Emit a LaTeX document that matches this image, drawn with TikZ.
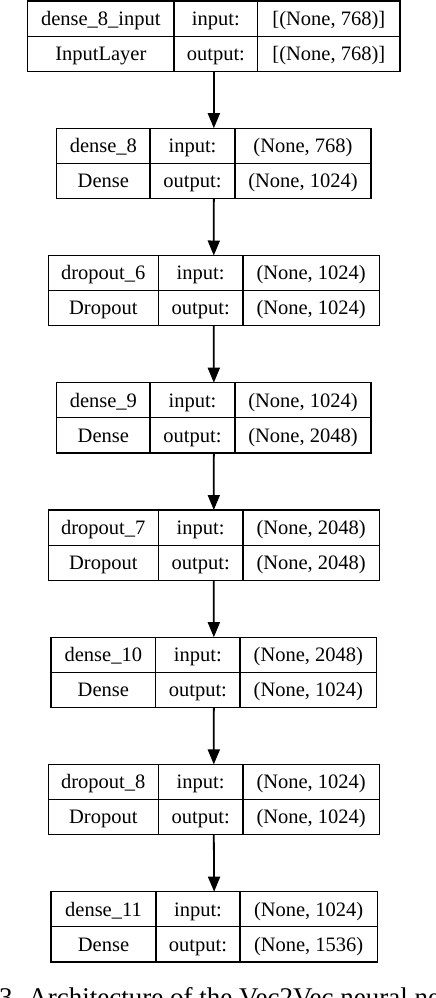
\documentclass[tikz,border=0pt]{standalone}
\usepackage{fontspec}
\setmainfont{Liberation Serif}
\usetikzlibrary{arrows.meta}
\begin{document}
\begin{tikzpicture}[x=1pt,y=-1pt,
  cell/.style={anchor=base, inner sep=0pt, font=\fontsize{20.5}{24}\selectfont},
  layerbox/.style={draw=black, line width=1.2pt, inner sep=0pt, outer sep=0pt},
  divider/.style={draw=black, line width=1.2pt},
  flow/.style={draw=black, line width=1.8pt, -{Triangle[width=12pt,length=15pt]}}]
\useasboundingbox (0,0) rectangle (436,998);
\clip (0,0) rectangle (436,998);
\foreach \n/\xl/\ca/\cb/\xr/\yt/\lab/\typ/\ti/\to in {
  1/27.7/174/257.7/400/1/{dense\_8\_input}/{InputLayer}/{[(None, 768)]}/{[(None, 768)]},
  2/56.7/150/235/371/128.2/{dense\_8}/{Dense}/{(None, 768)}/{(None, 1024)},
  3/48.3/158.3/243/379.3/255.5/{dropout\_6}/{Dropout}/{(None, 1024)}/{(None, 1024)},
  4/56.7/150/235/371/382.7/{dense\_9}/{Dense}/{(None, 1024)}/{(None, 2048)},
  5/48.3/158.3/243/379.3/510/{dropout\_7}/{Dropout}/{(None, 2048)}/{(None, 2048)},
  6/51/155.7/240/376.7/637.2/{dense\_10}/{Dense}/{(None, 2048)}/{(None, 1024)},
  7/48.3/158.3/243/379.3/764.4/{dropout\_8}/{Dropout}/{(None, 1024)}/{(None, 1024)},
  8/51/156/240/377.3/891.7/{dense\_11}/{Dense}/{(None, 1024)}/{(None, 1536)}} {
  \node[layerbox, minimum width={(\xr-\xl)*1pt}, minimum height=70.3pt] (b\n) at ({(\xl+\xr)/2},{\yt+35.15}) {};
  \draw[divider] (b\n.west) -- (b\n.east);
  \draw[divider] (\ca,\yt) -- (\ca,{\yt+70.3});
  \draw[divider] (\cb,\yt) -- (\cb,{\yt+70.3});
  \node[cell] (b\n-name) at ({(\xl+\ca)/2},{\yt+24.3}) {\lab};
  \node[cell] (b\n-type) at ({(\xl+\ca)/2},{\yt+59.45}) {\typ};
  \node[cell] (b\n-il) at ({(\ca+\cb)/2},{\yt+24.3}) {input:};
  \node[cell] (b\n-ol) at ({(\ca+\cb)/2},{\yt+59.45}) {output:};
  \node[cell] (b\n-is) at ({(\cb+\xr)/2},{\yt+24.3}) {\ti};
  \node[cell] (b\n-os) at ({(\cb+\xr)/2},{\yt+59.45}) {\to};
}
\foreach \a/\b in {1/2,2/3,3/4,4/5,5/6,6/7,7/8}
  \draw[flow] (b\a.south) -- (b\b.north);
\node[anchor=base west, inner sep=0pt, font=\fontsize{27}{32}\selectfont] (caption) at (-1,1006.5) {3. Architecture of the Vec2Vec neural ne};
\end{tikzpicture}
\end{document}
